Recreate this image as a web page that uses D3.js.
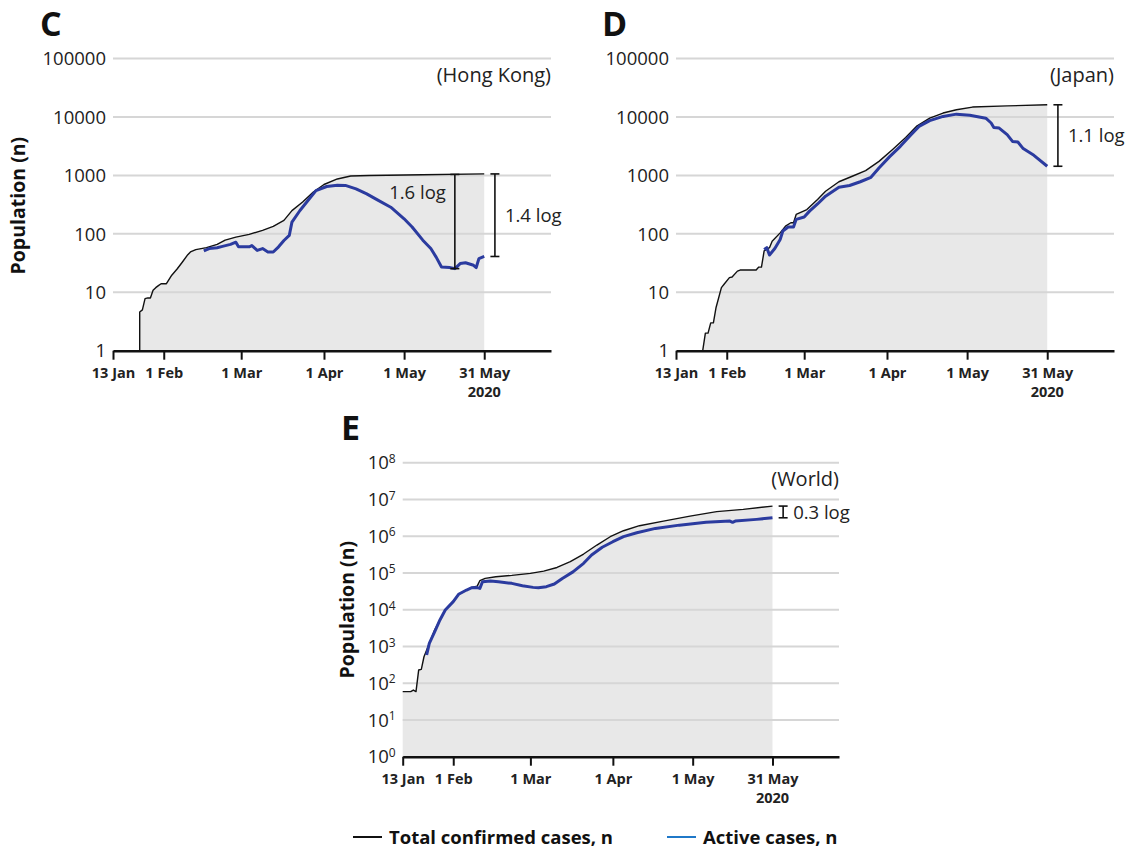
<!DOCTYPE html>
<html lang="en">
<head>
<meta charset="UTF-8">
<title>Total confirmed vs active cases</title>
<script src="https://cdn.jsdelivr.net/npm/d3@7"></script>
<style>
  body { margin: 0; background: #fff; }
  svg { font-family: 'Open Sans', sans-serif; }
</style>
</head>
<body>
<svg id="chart" width="1131" height="850"></svg>
<script>
// all days are counted from 13 Jan 2020
const hkTotalDays = [10, 10, 11, 12, 13, 14, 15, 16, 17, 18, 20, 22, 24, 26, 28, 29, 31, 35, 39, 42, 46, 51, 56, 60, 64, 67, 71, 75, 79, 84, 89, 96, 116, 139]
const hkTotal = [1, 4.6, 5, 7.8, 8, 8, 10.8, 12, 13, 14, 14, 19.6, 25, 33, 44, 49, 53.6, 58, 66, 78, 88, 98, 115, 134, 170, 250, 350, 518, 700, 870, 980, 1000, 1030, 1062]
const hkActiveDays = [34, 36, 39, 41, 44, 46, 47, 51, 52, 54, 56, 58, 60, 62, 64, 66, 67, 70, 73, 76, 80, 84, 87, 91, 95, 99, 104, 109, 112, 116, 119, 121, 123, 126, 128, 130, 132, 135, 136, 137, 139]
const hkActive = [51, 56, 58, 61, 66, 72, 60, 60, 63, 52, 56, 49, 49, 60, 77, 94, 159, 251, 372, 550, 646, 680, 675, 590, 484, 382, 286, 181, 131, 78, 56, 40, 27, 26.5, 25.4, 31, 32, 29, 26.5, 37.7, 41]

const jpTotalDays = [3, 10, 11, 12, 13, 14, 15, 17, 18, 20, 21, 23, 24, 30, 31, 32, 33, 35, 36, 39, 41, 43, 44, 45, 49, 53, 56, 61, 66, 71, 76, 81, 86, 90, 95, 100, 105, 111, 124, 139]
const jpTotal = [1, 1, 2, 2, 3, 3, 5.5, 12, 13.7, 17.8, 18.3, 23, 24, 24, 27, 27, 51, 58, 75, 104, 136, 155, 155, 215, 260, 388, 536, 780, 969, 1210, 1740, 2760, 4470, 6900, 9560, 11700, 13300, 14800, 15500, 16200]
const jpActiveDays = [33, 34, 35, 37, 39, 40, 42, 44, 45, 48, 50, 53, 56, 61, 65, 69, 73, 76, 80, 84, 88, 91, 95, 100, 105, 110, 116, 118, 119, 121, 124, 126, 128, 130, 134, 139]
const jpActive = [54, 58, 43.4, 56, 80, 112, 131, 131, 177, 194, 245, 325, 442, 630, 672, 780, 930, 1340, 2100, 3150, 4990, 6900, 8670, 10230, 11200, 10700, 9560, 7900, 6630, 6470, 4990, 3820, 3730, 2880, 2210, 1436]

const worldTotalDays = [0, 3, 4, 5, 6, 7, 8, 10, 12, 14, 16, 19, 21, 24, 26, 28, 29, 31, 35, 41, 48, 53, 58, 63, 68, 73, 78, 83, 89, 98, 108, 118, 128, 139]
const worldTotal = [59, 59, 65, 59, 228, 238, 525, 1210, 2800, 5250, 9800, 16600, 26300, 34300, 40500, 43800, 61500, 71000, 79000, 86000, 97600, 112000, 141000, 202000, 327000, 575000, 968000, 1410000, 1930000, 2580000, 3530000, 4660000, 5370000, 6600000]
const worldActiveDays = [9, 10, 12, 14, 16, 19, 21, 24, 26, 28, 29, 30, 33, 36, 41, 45, 49, 51, 54, 57, 60, 64, 68, 71, 75, 79, 83, 88, 95, 104, 114, 123, 124, 125, 133, 139]
const worldActive = [585, 1210, 2500, 5250, 9800, 16600, 26300, 34300, 39600, 40000, 38000, 57700, 60300, 57700, 52100, 44900, 40500, 39600, 42400, 50000, 71000, 107000, 183000, 309000, 500000, 708000, 970000, 1240000, 1630000, 2000000, 2380000, 2580000, 2380000, 2580000, 2870000, 3170000]

// log gaps marked with brackets: [day, low, high, label]
const hkGaps = [[128, 25.4, 1040, '1.6 log'], [143, 41, 1062, '1.4 log']]
const jpGaps = [[143, 1436, 16200, '1.1 log']]
const worldGaps = [[143, 3170000, 6600000, '0.3 log']]

const tickDays = [0, 19, 48, 79, 109, 139]
const tickLabels = ['13 Jan', '1 Feb', '1 Mar', '1 Apr', '1 May', '31 May']
const yTicksSmall = [1, 10, 100, 1000, 10000, 100000]
const yTicksWorld = [0, 1, 2, 3, 4, 5, 6, 7, 8]
const legendLabels = ['Total confirmed cases, n', 'Active cases, n']

const start = new Date(Date.UTC(2020, 0, 13))
const day = d => d3.utcDay.offset(start, d)
const end = day(164)

const svg = d3.select('#chart')
const blue = '#2b3b9f'

function drawPanel(p) {
    const x = d3.scaleUtc().domain([start, end]).range([p.left, p.right])
    const y = d3.scaleLog().domain([1, p.yMax]).range([p.bottom, p.top])
    const g = svg.append('g')

    const total = p.totalDays.map((d, i) => [day(d), p.total[i]])
    const active = p.activeDays.map((d, i) => [day(d), p.active[i]])

    g.append('path').datum(total)
        .attr('fill', '#e8e8e8')
        .attr('d', d3.area().x(d => x(d[0])).y0(y(1)).y1(d => y(d[1])))

    g.append('g').selectAll('line')
        .data(p.yTicks.slice(1))
        .join('line')
        .attr('x1', p.left).attr('x2', p.right)
        .attr('y1', d => y(d)).attr('y2', d => y(d))
        .attr('stroke', '#d6d6d6').attr('stroke-width', 2)

    const line = d3.line().x(d => x(d[0])).y(d => y(d[1]))
    g.append('path').datum(total)
        .attr('fill', 'none').attr('stroke', '#111').attr('stroke-width', 1.4)
        .attr('stroke-linejoin', 'round')
        .attr('d', line)
    g.append('path').datum(active)
        .attr('fill', 'none').attr('stroke', blue).attr('stroke-width', 3)
        .attr('stroke-linejoin', 'round')
        .attr('d', line)

    // y tick labels
    const yl = g.append('g').selectAll('text')
        .data(p.yTicks)
        .join('text')
        .attr('x', p.left - 7)
        .attr('y', d => y(d))
        .attr('dy', '0.36em')
        .attr('text-anchor', 'end')
        .attr('font-size', 18.5)
        .attr('fill', '#222')
    if (p.power) {
        yl.text('10').append('tspan')
            .attr('dy', '-0.55em').attr('font-size', 12)
            .text(d => Math.round(Math.log10(d)))
    } else {
        yl.text(d => d)
    }

    // x axis
    const axis = d3.axisBottom(x)
        .tickValues(tickDays.map(day))
        .tickFormat((d, i) => tickLabels[i])
        .tickSize(9).tickSizeOuter(0).tickPadding(8)
    const ax = g.append('g').attr('transform', `translate(0,${p.bottom})`).call(axis)
    ax.select('.domain').attr('stroke', '#111').attr('stroke-width', 2.5)
    ax.selectAll('.tick line').attr('stroke', '#111').attr('stroke-width', 2)
    ax.selectAll('.tick text').attr('font-size', 14.5).attr('font-weight', 700)
        .attr('fill', '#222').attr('font-family', "'Open Sans', sans-serif")
    g.append('text')
        .attr('x', x(day(139))).attr('y', p.bottom + 46)
        .attr('text-anchor', 'middle')
        .attr('font-size', 14.5).attr('font-weight', 700).attr('fill', '#222')
        .text('2020')

    // region name
    g.append('text')
        .attr('x', p.right).attr('y', y(p.yMax) + 16)
        .attr('dy', '0.36em').attr('text-anchor', 'end')
        .attr('font-size', 20).attr('fill', '#222')
        .text(p.region)

    // brackets
    p.gaps.forEach(([d, lo, hi, label], i) => {
        const bx = x(day(d))
        const y0 = y(hi), y1 = y(lo)
        const b = g.append('g').attr('stroke', '#111').attr('stroke-width', 1.6)
        b.append('line').attr('x1', bx).attr('x2', bx).attr('y1', y0).attr('y2', y1)
        b.append('line').attr('x1', bx - 4.5).attr('x2', bx + 4.5).attr('y1', y0).attr('y2', y0)
        b.append('line').attr('x1', bx - 4.5).attr('x2', bx + 4.5).attr('y1', y1).attr('y2', y1)
        const left = p.region === '(Hong Kong)' && i === 0
        g.append('text')
            .attr('x', left ? bx - 9 : bx + 10)
            .attr('y', left ? y0 + 18 : (y0 + y1) / 2)
            .attr('dy', '0.36em')
            .attr('text-anchor', left ? 'end' : 'start')
            .attr('font-size', 18.5).attr('fill', '#222')
            .text(label)
    })

    // panel letter
    svg.append('text')
        .attr('x', p.letterX).attr('y', p.letterY)
        .attr('font-size', 34).attr('font-weight', 700).attr('fill', '#111')
        .text(p.letter)

    if (p.title) {
        svg.append('text')
            .attr('transform', `translate(${p.titleX},${(p.top + p.bottom) / 2 + p.titleShift}) rotate(-90)`)
            .attr('text-anchor', 'middle').attr('dy', '0.36em')
            .attr('font-size', 19.5).attr('font-weight', 700).attr('fill', '#111')
            .text('Population (n)')
    }
}

drawPanel({
    letter: 'C', letterX: 40, letterY: 36,
    left: 113, right: 551, top: 58.6, bottom: 350.7, yMax: 1e5,
    yTicks: yTicksSmall, region: '(Hong Kong)',
    totalDays: hkTotalDays, total: hkTotal, activeDays: hkActiveDays, active: hkActive,
    gaps: hkGaps, title: true, titleX: 18, titleShift: 1
})
drawPanel({
    letter: 'D', letterX: 602, letterY: 36,
    left: 676, right: 1114, top: 58.6, bottom: 350.7, yMax: 1e5,
    yTicks: yTicksSmall, region: '(Japan)',
    totalDays: jpTotalDays, total: jpTotal, activeDays: jpActiveDays, active: jpActive,
    gaps: jpGaps, title: false
})
drawPanel({
    letter: 'E', letterX: 341, letterY: 440,
    left: 402.7, right: 839, top: 462.7, bottom: 756.7, yMax: 1e8,
    yTicks: yTicksWorld.map(e => Math.pow(10, e)), power: true, region: '(World)',
    totalDays: worldTotalDays, total: worldTotal, activeDays: worldActiveDays, active: worldActive,
    gaps: worldGaps, title: true, titleX: 347, titleShift: 0
})

// legend
const legend = svg.append('g').attr('transform', 'translate(0,837)')
const legendItems = legend.selectAll('g')
    .data(legendLabels)
    .join('g')
    .attr('transform', (d, i) => `translate(${i === 0 ? 353 : 667},0)`)
legendItems.append('line')
    .attr('x1', 0).attr('x2', 29)
    .attr('stroke', (d, i) => i === 0 ? '#111' : '#1f78c8')
    .attr('stroke-width', 2)
legendItems.append('text')
    .attr('x', 36).attr('dy', '0.36em')
    .attr('font-size', 18.5).attr('font-weight', 700).attr('fill', '#111')
    .text(d => d)
</script>
</body>
</html>
